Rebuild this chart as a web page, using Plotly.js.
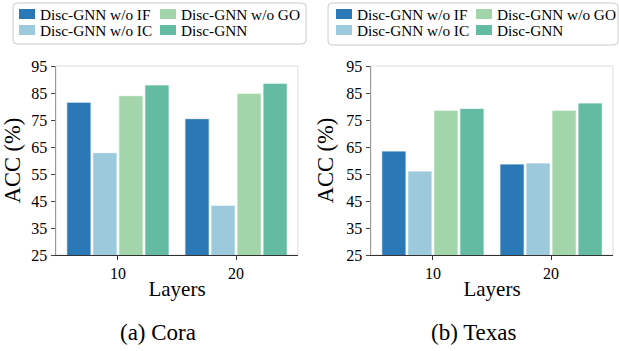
<!DOCTYPE html>
<html>
<head>
<meta charset="utf-8">
<script src="https://cdn.plot.ly/plotly-3.0.1.min.js"></script>
<style>html,body{margin:0;padding:0;background:#fff;}#chart{width:619px;height:351px;}</style>
</head>
<body>
<div id="chart"></div>
<script>
// ---- data ----
const categories = ['10', '20'];
const seriesNames = ['Disc-GNN w/o IF', 'Disc-GNN w/o IC', 'Disc-GNN w/o GO', 'Disc-GNN'];
const seriesColors = ['#2a78b6', '#9ccadc', '#a2d5a9', '#63bca1'];
const coraIF = [81.6, 75.5];
const coraIC = [62.9, 43.4];
const coraGO = [84.0, 84.9];
const coraGNN = [88.0, 88.6];
const texasIF = [63.5, 58.7];
const texasIC = [56.1, 59.1];
const texasGO = [78.6, 78.6];
const texasGNN = [79.3, 81.3];
const yTicks = [25, 35, 45, 55, 65, 75, 85, 95];
const captions = ['(a) Cora', '(b) Texas'];
const xTitle = 'Layers';
const yTitle = 'ACC (%)';

const coraSeries = [coraIF, coraIC, coraGO, coraGNN];
const texasSeries = [texasIF, texasIC, texasGO, texasGNN];

const W = 619, H = 351;
const px = x => x / W;
const py = y => 1 - y / H;
const FONT = '"Liberation Serif", "Times New Roman", Times, serif';

const traces = [];
[[coraSeries, 'x', 'y'], [texasSeries, 'x2', 'y2']].forEach(([ser, xa, ya]) => {
  ser.forEach((vals, i) => {
    traces.push({
      type: 'bar', x: categories, y: vals, name: seriesNames[i],
      xaxis: xa, yaxis: ya, showlegend: false,
      marker: {color: seriesColors[i], line: {color: '#ffffff', width: 0.8}},
      hoverinfo: 'x+y+name'
    });
  });
});

function xAxis(domain, anchor) {
  return {
    domain: domain, anchor: anchor, type: 'category', range: [-0.524, 1.524],
    showline: true, linecolor: '#333333', linewidth: 1.2,
    ticks: 'outside', ticklen: 3.5, tickwidth: 1, tickcolor: '#333333',
    showgrid: false, zeroline: false, fixedrange: true,
    tickfont: {family: FONT, size: 16, color: '#000'},
    title: {text: xTitle, font: {family: FONT, size: 21, color: '#000'}, standoff: 0}
  };
}
function yAxis(domain, anchor) {
  return {
    domain: domain, anchor: anchor, range: [25, 95], tickvals: yTicks,
    showline: true, linecolor: '#9a9a9a', linewidth: 1.5,
    ticks: 'outside', ticklen: 4, tickwidth: 1, tickcolor: '#444444',
    showgrid: false, zeroline: false, fixedrange: true,
    tickfont: {family: FONT, size: 16, color: '#000'},
    title: {text: yTitle, font: {family: FONT, size: 22.5, color: '#000'}, standoff: 6}
  };
}

const yDom = [py(255), py(66)];
const shapes = [];
const annotations = [];

// light frame (top/right spines)
[['x', 'y'], ['x2', 'y2']].forEach(([xa, ya]) => {
  shapes.push({type: 'rect', xref: xa + ' domain', yref: ya + ' domain', x0: 0, x1: 1, y0: 0, y1: 1,
    line: {color: '#dddddd', width: 1}, fillcolor: 'rgba(0,0,0,0)', layer: 'below'});
});

// custom legends
function roundedBox(x0, y0, x1, y1, r) {
  const X0 = px(x0), X1 = px(x1), Y0 = py(y0), Y1 = py(y1), rx = r / W, ry = r / H;
  return `M${X0 + rx},${Y0} L${X1 - rx},${Y0} Q${X1},${Y0} ${X1},${Y0 - ry} L${X1},${Y1 + ry} Q${X1},${Y1} ${X1 - rx},${Y1} L${X0 + rx},${Y1} Q${X0},${Y1} ${X0},${Y1 + ry} L${X0},${Y0 - ry} Q${X0},${Y0} ${X0 + rx},${Y0} Z`;
}
const legends = [
  {box: [13, 3, 306, 44], sw: [19, 160], tx: [38, 179]},
  {box: [328, 3, 618, 45], sw: [336, 476], tx: [354.5, 495]}
];
const rowY = [14, 30];
legends.forEach(lg => {
  shapes.push({type: 'path', xref: 'paper', yref: 'paper', path: roundedBox(...lg.box, 4),
    line: {color: '#cccccc', width: 1}, fillcolor: 'rgba(255,255,255,0.8)'});
  seriesNames.forEach((name, i) => {
    const col = Math.floor(i / 2), row = i % 2;
    const cy = rowY[row];
    shapes.push({type: 'rect', xref: 'paper', yref: 'paper',
      x0: px(lg.sw[col]), x1: px(lg.sw[col] + 16), y0: py(cy - 5), y1: py(cy + 5),
      line: {width: 0}, fillcolor: seriesColors[i]});
    annotations.push({xref: 'paper', yref: 'paper', x: px(lg.tx[col]), y: py(cy),
      xanchor: 'left', yanchor: 'middle', showarrow: false, text: name,
      font: {family: FONT, size: 15.3, color: '#000'}});
  });
});

// captions
[[158, captions[0]], [474, captions[1]]].forEach(([x, t]) => {
  annotations.push({xref: 'paper', yref: 'paper', x: px(x), y: py(332), xanchor: 'center', yanchor: 'middle',
    showarrow: false, text: t, font: {family: FONT, size: 23, color: '#000'}});
});

const layout = {
  width: W, height: H, margin: {l: 0, r: 0, t: 0, b: 0},
  paper_bgcolor: '#ffffff', plot_bgcolor: '#ffffff',
  barmode: 'group', bargap: 0.119, bargroupgap: 0.07,
  showlegend: false,
  xaxis: xAxis([px(56), px(298)], 'y'),
  yaxis: yAxis(yDom, 'x'),
  xaxis2: xAxis([px(371), px(613)], 'y2'),
  yaxis2: yAxis(yDom, 'x2'),
  shapes: shapes, annotations: annotations,
  font: {family: FONT}
};

Plotly.newPlot('chart', traces, layout, {staticPlot: true, displayModeBar: false});
</script>
</body>
</html>
